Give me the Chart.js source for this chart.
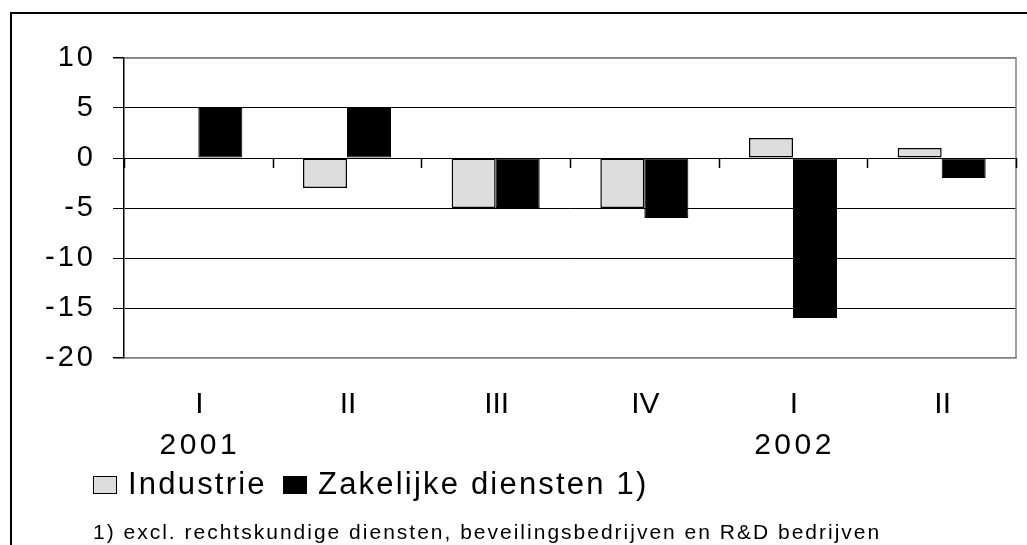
<!DOCTYPE html>
<html><head><meta charset="utf-8">
<script src="https://cdn.jsdelivr.net/npm/chart.js@4/dist/chart.umd.min.js"></script>
<style>html,body{margin:0;padding:0;background:#fff;overflow:hidden}#wrap{width:1027px;height:545px;position:relative}</style>
</head><body><div id="wrap"><canvas id="c" width="1027" height="545"></canvas></div>
<script>
const quarters = ['I','II','III','IV','I','II'];
const years = ['2001','','','','2002',''];
const categories = quarters.map((q, i) => years[i] ? [q, years[i]] : q);
const industrie = [0,-3,-5,-5,2,1];
const zakelijk = [5,5,-5,-6,-16,-2];
const seriesNames = ['Industrie','Zakelijke diensten 1)'];
const yTicks = [-20,-15,-10,-5,0,5,10];
const footnote = '1) excl. rechtskundige diensten, beveilingsbedrijven en R&D bedrijven';

const FONT = '"Liberation Sans", Arial, sans-serif';

const spacingPlugin = {
  id: 'ls',
  beforeUpdate(chart){ chart.ctx.letterSpacing = '3px'; },
  beforeDraw(chart){
    const ctx = chart.ctx;
    ctx.letterSpacing = '3px';
    ctx.save();
    ctx.fillStyle = '#fff';
    ctx.fillRect(0,0,chart.width,chart.height);
    ctx.restore();
  }
};

const decoPlugin = {
  id: 'deco',
  beforeDatasetsDraw(chart){
    const {ctx, chartArea:a} = chart;
    ctx.save();
    ctx.strokeStyle = '#808080';
    ctx.lineWidth = 1.5;
    ctx.beginPath();
    ctx.moveTo(a.left, a.top); ctx.lineTo(a.right, a.top); ctx.lineTo(a.right, a.bottom);
    ctx.stroke();
    ctx.restore();
  },
  afterDatasetsDraw(chart){
    const {ctx} = chart;
    const xs = chart.scales.x, ys = chart.scales.y;
    const y0 = ys.getPixelForValue(0);
    ctx.save();
    ctx.strokeStyle = '#000';
    ctx.lineWidth = 1.5;
    ctx.beginPath();
    for (let i = 0; i <= categories.length; i++) {
      const x = Math.round(xs.getPixelForValue(i - 0.5)) + 0.5;
      ctx.moveTo(x, y0); ctx.lineTo(x, y0 + 10);
    }
    ctx.stroke();
    ctx.restore();
  },
  afterDraw(chart){
    const {ctx} = chart;
    const xs = chart.scales.x;
    ctx.save();
    // x-axis category labels
    ctx.fillStyle = '#000';
    ctx.textAlign = 'center';
    ctx.textBaseline = 'middle';
    ctx.font = '30px ' + FONT;
    for (let i = 0; i < quarters.length; i++) {
      const x = xs.getPixelForValue(i);
      ctx.letterSpacing = '0px';
      ctx.fillText(quarters[i], x + 1, 405);
      if (years[i]) {
        ctx.letterSpacing = '3.5px';
        ctx.fillText(years[i], x + 1.5, 446);
      }
    }
    // outer frame
    ctx.strokeStyle = '#000';
    ctx.lineWidth = 2;
    ctx.strokeRect(11, 13, 1040, 560);
    // legend
    ctx.lineWidth = 1;
    ctx.fillStyle = '#dddddd';
    ctx.fillRect(93.5, 476.5, 23, 17);
    ctx.strokeStyle = '#000';
    ctx.strokeRect(93.5, 476.5, 23, 17);
    ctx.fillStyle = '#000';
    ctx.fillRect(283, 476, 24, 18);
    ctx.font = '31px ' + FONT;
    ctx.letterSpacing = '2.2px';
    ctx.textBaseline = 'middle';
    ctx.textAlign = 'left';
    ctx.fillText(seriesNames[0], 128, 485);
    ctx.fillText(seriesNames[1], 318, 485);
    // footnote
    ctx.font = '21px ' + FONT;
    ctx.letterSpacing = '2px';
    ctx.textBaseline = 'alphabetic';
    ctx.fillText(footnote, 93, 539);
    ctx.restore();
  }
};

new Chart(document.getElementById('c'), {
  type: 'bar',
  data: {
    labels: categories,
    datasets: [
      { label: seriesNames[0], data: industrie, backgroundColor: '#dddddd', borderColor: '#000', borderWidth: 1.5, borderSkipped: false },
      { label: seriesNames[1], data: zakelijk, backgroundColor: '#000000', borderColor: '#000', borderWidth: 1, borderSkipped: false }
    ]
  },
  options: {
    responsive: false,
    devicePixelRatio: 1,
    animation: false,
    events: [],
    layout: { padding: { left: 0, top: 58, right: 11, bottom: 0 } },
    datasets: { bar: { categoryPercentage: 0.592, barPercentage: 1 } },
    plugins: { legend: { display: false }, tooltip: { enabled: false } },
    scales: {
      x: {
        offset: true,
        grid: { display: false, drawTicks: false },
        border: { display: true, color: '#808080', width: 1.5 },
        ticks: { display: false },
        afterFit(s){ s.height = 545 - 358; }
      },
      y: {
        min: -20, max: 10,
        afterBuildTicks(s){ s.ticks = yTicks.map(v => ({ value: v })); },
        grid: {
          color: (c) => (c.tick && (c.tick.value === 10 || c.tick.value === -20)) ? '#808080' : '#000',
          lineWidth: (c) => (c.tick && (c.tick.value === 10 || c.tick.value === -20)) ? 1.5 : 1,
          tickColor: '#000', tickLength: 11, drawTicks: true
        },
        border: { display: true, color: '#000', width: 1.5 },
        ticks: { color: '#000', font: { family: FONT, size: 29 }, padding: 17 },
        afterFit(s){ s.width = 124; }
      }
    }
  },
  plugins: [spacingPlugin, decoPlugin]
});
</script>
</body></html>
